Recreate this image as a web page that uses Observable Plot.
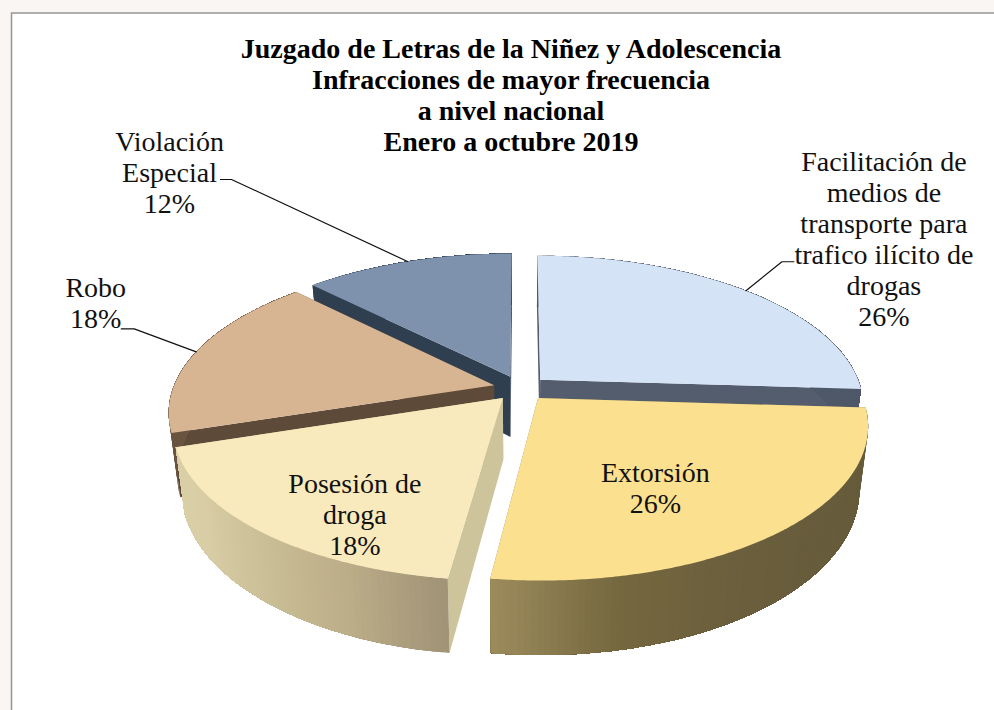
<!DOCTYPE html>
<html><head><meta charset="utf-8">
<script src="https://cdn.jsdelivr.net/npm/d3@7"></script>
<script src="https://cdn.jsdelivr.net/npm/@observablehq/plot@0.6"></script>
<style>html,body{margin:0;padding:0;background:#f9f6f3;overflow:hidden}svg{display:block}</style>
</head><body><div id="chart"></div>
<script>
// values
const categories = ["Facilitación de\nmedios de\ntransporte para\ntrafico ilícito de\ndrogas","Extorsión","Posesión de\ndroga","Robo","Violación\nEspecial"];
const shares = [26,26.1,17.9,17.6,12.4];
const topColors = ["#d5e3f7","#fae08f","#f9eabd","#d8b592","#7f92ad"];
const sideColors = [["#4e5868","#4e5868"],["#665b3a","#665b3a","#675c3b","#6b5f3d","#75683f","#9c8c5c"],["#a09376","#bcae88","#cbbf98","#d8cda5","#dad0a6"],["#6a5440","#6a5440"],["#2f3f50","#2f3f50"]];
const edgeColors = ["#535d6d","#8f7f52","#cdc49c","#5e4a38","#2f3f50"];
const paintOrder = [4,0,3,2,1];
const titleLines = "Juzgado de Letras de la Niñez y Adolescencia\nInfracciones de mayor frecuencia\na nivel nacional\nEnero a octubre 2019";

// 3-D view of the pie
const view = {cx:520, cy:387.7, rx:321, ry:147.8, p:0.17, explode:0.085, depth:61, bottomScale:0.975};
// label placement relative to the middle of each slice's rim
const labelOffset = [[138,-52.5],[-123,-45],[94,-18],[-100.5,-49.5],[-238,-89]];
const leaderOffset = [[[48,-29],[36,-29]],null,null,[[-75,-23],[-62,-23]],[[-187,-82],[-176,-82]]];

const rad = d => d*Math.PI/180;
function topPt(U,V){const w=1+view.p*V;return [view.cx+view.rx*U/w, view.cy-view.ry*V/w];}
function botPt(U,V){const w=1+view.p*V;return [view.cx+view.bottomScale*view.rx*U/w, view.cy-view.ry*V/w+view.depth/w];}

const total = d3.sum(shares);
let acc=0;
const slices = shares.map((s,i)=>{const a=acc/total*360;acc+=s;const b=acc/total*360;const m=(a+b)/2;
  return {i,a,b,m,ox:view.explode*Math.sin(rad(m)),oy:view.explode*Math.cos(rad(m))};});
const rim=(s,t)=>[s.ox+Math.sin(rad(t)),s.oy+Math.cos(rad(t))];

const polys=[];let pid=0;
function poly(pts,fill){const id=pid++;pts.forEach(p=>polys.push({id,x:p[0],y:p[1],fill}));}
for(const i of paintOrder){
  const s=slices[i];
  const A=[s.ox,s.oy];
  const P=rim(s,s.a),Q=rim(s,s.b);
  poly([topPt(...A),topPt(...Q),botPt(...Q),botPt(...A)],edgeColors[i]);
  poly([topPt(...A),topPt(...P),botPt(...P),botPt(...A)],edgeColors[i]);
  const scale=d3.scaleLinear().domain(d3.range(sideColors[i].length).map(k=>s.a+(s.b-s.a)*k/(sideColors[i].length-1))).range(sideColors[i]).interpolate(d3.interpolateRgb);
  const n=Math.ceil(s.b-s.a);
  // each band runs on to the far end of the rim, so the next band overlaps it without a seam
  for(let k=0;k<n;k++){
    const t0=s.a+(s.b-s.a)*k/n;
    const band=[];
    for(let j=k;j<=n;j++) band.push(topPt(...rim(s,s.a+(s.b-s.a)*j/n)));
    for(let j=n;j>=k;j--) band.push(botPt(...rim(s,s.a+(s.b-s.a)*j/n)));
    poly(band,scale(t0+(s.b-s.a)/n/2));
  }
  const top=[topPt(...A)];
  for(let k=0;k<=n*2;k++) top.push(topPt(...rim(s,s.a+(s.b-s.a)*k/(n*2))));
  poly(top,topColors[i]);
}

const labels=slices.map(s=>{const c=topPt(...rim(s,s.m));const o=labelOffset[s.i];
  return {x:c[0]+o[0],y:c[1]+o[1],text:categories[s.i]+"\n"+Math.round(shares[s.i])+"%"};});
const leaders=[];
slices.forEach(s=>{const l=leaderOffset[s.i];if(!l)return;const c=topPt(...rim(s,s.m));
  leaders.push({id:s.i,x:c[0]+l[0][0],y:c[1]+l[0][1]},{id:s.i,x:c[0]+l[1][0],y:c[1]+l[1][1]},{id:s.i,x:c[0],y:c[1]});});

const font='"Liberation Serif",serif';
const chart=Plot.plot({
  width:994,height:710,margin:0,
  style:{background:"#f9f6f3"},
  x:{axis:null,domain:[0,994],range:[0,994]},
  y:{axis:null,domain:[0,710],range:[0,710]},
  color:{type:"identity"},
  marks:[
    Plot.rect([{x1:11.5,y1:13,x2:1100,y2:800}],{x1:"x1",x2:"x2",y1:"y1",y2:"y2",fill:"#fff",stroke:"#969696",strokeWidth:1.5}),
    Plot.line(polys,{x:"x",y:"y",z:"id",fill:"fill",stroke:"none",curve:"linear-closed"}),
    Plot.line(leaders,{x:"x",y:"y",z:"id",stroke:"#111",strokeWidth:1.2}),
    Plot.text([titleLines],{x:()=>510.5,y:()=>93.8,text:d=>d,fontFamily:font,fontWeight:"bold",fontSize:28,lineHeight:1.107,fill:"#000",lineAnchor:"middle"}),
    Plot.text(labels,{x:"x",y:"y",text:"text",fontFamily:font,fontSize:28,lineHeight:1.107,fill:"#111",lineAnchor:"middle"})
  ]
});
document.getElementById("chart").append(chart);
</script></body></html>
